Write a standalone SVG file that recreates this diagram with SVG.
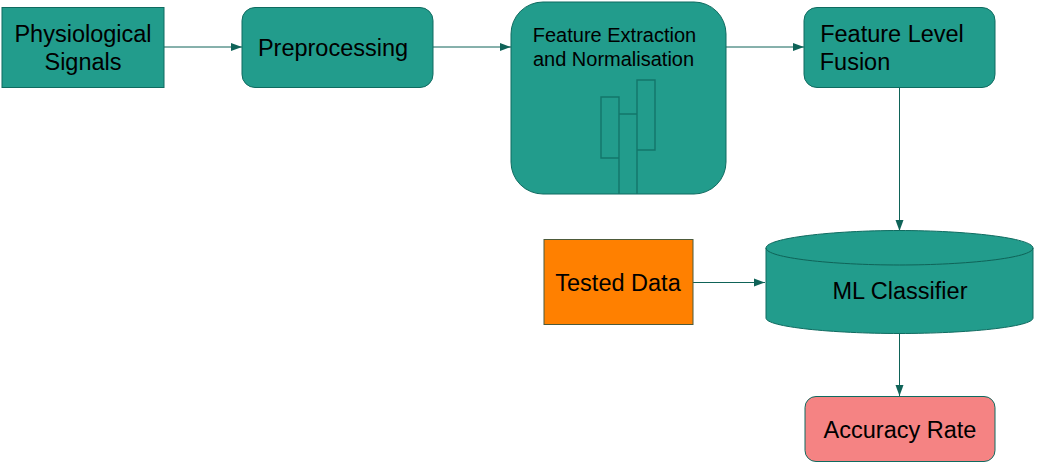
<svg xmlns="http://www.w3.org/2000/svg" width="1038" height="466" viewBox="0 0 1038 466">
<style>
.s{fill:#229c8c;stroke:#0f6b60;stroke-width:1}
.t{font-family:"Liberation Sans",Arial,sans-serif;font-size:23.5px;fill:#000;text-anchor:middle}
.c{fill:none;stroke:#0f6358;stroke-width:1}
.i{fill:none;stroke:#13756a;stroke-width:1.4}
</style>
<defs><marker id="a" markerUnits="userSpaceOnUse" markerWidth="12" markerHeight="10" refX="11" refY="5" orient="auto"><path d="M0 1L11 5L0 9Z" fill="#0f6358"/></marker></defs>
<rect width="1038" height="466" fill="#fff"/>
<g id="connectors">
<path class="c" marker-end="url(#a)" d="M164 47H242"/>
<path class="c" marker-end="url(#a)" d="M433 47H511"/>
<path class="c" marker-end="url(#a)" d="M726 47H804"/>
<path class="c" marker-end="url(#a)" d="M899.500 87V231"/>
<path class="c" marker-end="url(#a)" d="M693 282.500H765"/>
<path class="c" marker-end="url(#a)" d="M899.500 333V396"/>
</g>
<g id="physiological"><rect class="s" x="2" y="7.500" width="162" height="80"/><text class="t" x="83" y="42">Physiological</text><text class="t" x="83" y="70">Signals</text></g>
<g id="preprocessing"><rect class="s" x="242" y="7.500" width="191" height="80" rx="13"/><text class="t" x="333" y="56">Preprocessing</text></g>
<g id="feature-extraction"><rect class="s" x="511" y="2" width="215" height="192" rx="32"/>
<path class="i" d="M619 194V114H637V194M601 97H619V158H601ZM637 80H655V150H637Z"/>
<text x="614.500" y="42" class="t" style="font-size:20px">Feature Extraction</text><text x="613.500" y="66" class="t" style="font-size:20px">and Normalisation</text></g>
<g id="fusion"><rect class="s" x="804" y="7.500" width="191" height="80" rx="13"/><text class="t" x="892" y="42">Feature Level</text><text class="t" x="855" y="70">Fusion</text></g>
<g id="tested"><rect x="544" y="239.500" width="149" height="85" fill="#ff8000" stroke="#4d5a3a"/><text class="t" x="618" y="291">Tested Data</text></g>
<g id="classifier"><path class="s" d="M766 248C766 238 833 230.500 899.500 230.500S1033 238 1033 248V318C1033 327 966 333.500 899.500 333.500S766 327 766 318Z"/><path class="c" d="M766 248C766 258 833 265 899.500 265S1033 258 1033 248"/><text class="t" x="900" y="299">ML Classifier</text></g>
<g id="accuracy"><rect x="805" y="396.500" width="190" height="65" rx="11" fill="#f58383" stroke="#0f6b60"/><text class="t" x="900" y="438">Accuracy Rate</text></g>
</svg>
